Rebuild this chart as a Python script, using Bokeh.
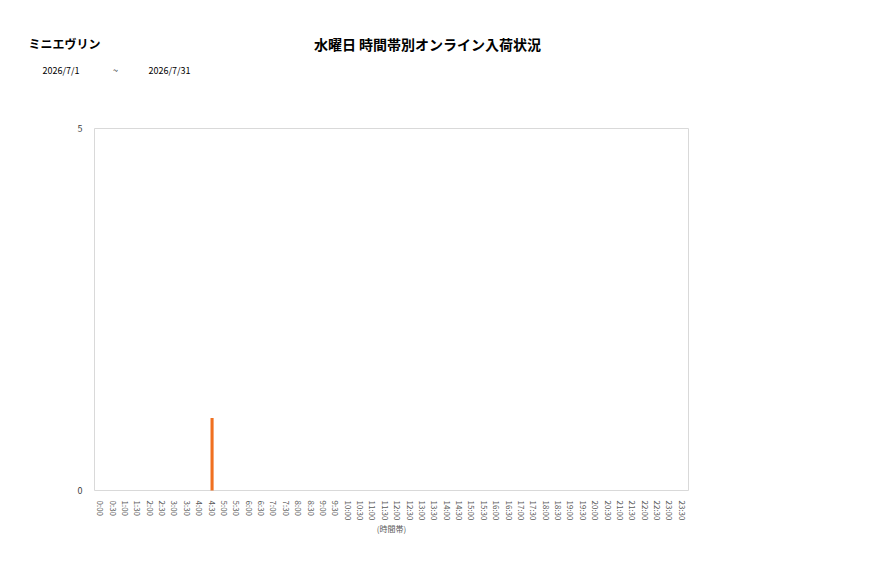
from bokeh.plotting import figure
from bokeh.models import Range1d, FixedTicker, ColumnDataSource
from bokeh.core.properties import value
from bokeh.embed import file_html
from bokeh.resources import INLINE

times = ["0:00", "0:30", "1:00", "1:30", "2:00", "2:30", "3:00", "3:30",
         "4:00", "4:30", "5:00", "5:30", "6:00", "6:30", "7:00", "7:30",
         "8:00", "8:30", "9:00", "9:30", "10:00", "10:30", "11:00", "11:30",
         "12:00", "12:30", "13:00", "13:30", "14:00", "14:30", "15:00", "15:30",
         "16:00", "16:30", "17:00", "17:30", "18:00", "18:30", "19:00", "19:30",
         "20:00", "20:30", "21:00", "21:30", "22:00", "22:30", "23:00", "23:30"]
counts = [0, 0, 0, 0, 0, 0, 0, 0,
          0, 1, 0, 0, 0, 0, 0, 0,
          0, 0, 0, 0, 0, 0, 0, 0,
          0, 0, 0, 0, 0, 0, 0, 0,
          0, 0, 0, 0, 0, 0, 0, 0,
          0, 0, 0, 0, 0, 0, 0, 0]
y_ticks = [0, 5]
y_max = 5
title_text = "水曜日 時間帯別オンライン入荷状況"
store_name = "ミニエヴリン"
date_from = "2026/7/1"
date_to = "2026/7/31"
x_label = "(時間帯)"

FONT = "Noto Sans CJK JP"
W, H = 869, 570
# chart area in canvas pixels
CL, CR, CT, CB = 94, 688, 128, 490

n = len(times)
xpos = [i + 0.5 for i in range(n)]
ux = (CR - CL) / n
uy = (CB - CT) / y_max
x_rng = Range1d(-CL / ux, n + (W - CR) / ux)
y_rng = Range1d(-(H - CB) / uy, y_max + CT / uy)

p = figure(width=W, height=H, x_range=x_rng, y_range=y_rng,
           output_backend="svg", toolbar_location=None, min_border=0)
p.outline_line_color = None
p.xgrid.visible = False
p.ygrid.visible = False
p.extra_x_ranges = {"px": Range1d(0, W)}
p.extra_y_ranges = {"px": Range1d(H, 0)}

# chart border
p.quad(left=[0], right=[n], bottom=[0], top=[y_max], fill_color=None,
       line_color="#d9d9d9", line_width=1)

src = ColumnDataSource(dict(x=xpos, c=counts))
p.vbar(x="x", top="c", width=0.25, source=src, color="#f07020", line_color=None)

p.yaxis.fixed_location = 0
p.yaxis.ticker = FixedTicker(ticks=y_ticks)
p.yaxis.axis_line_color = None
p.yaxis.major_tick_line_color = None
p.yaxis.minor_tick_line_color = None
p.yaxis.major_label_text_font = FONT
p.yaxis.major_label_text_font_size = "9px"
p.yaxis.major_label_text_color = "#404040"
p.yaxis.major_label_standoff = 6

p.xaxis.fixed_location = 0
p.xaxis.ticker = FixedTicker(ticks=xpos)
p.xaxis.major_label_overrides = {x: t for x, t in zip(xpos, times)}
p.xaxis.axis_line_color = None
p.xaxis.major_tick_line_color = None
p.xaxis.minor_tick_line_color = None
p.xaxis.major_label_orientation = "vertical"
p.xaxis.major_label_text_font = FONT
p.xaxis.major_label_text_font_size = "8px"
p.xaxis.major_label_text_color = "#595959"
p.xaxis.major_label_standoff = 4

def txt(t, x, y, size, style="normal", align="left", color="#000000"):
    p.text(x=[x], y=[y], text=[t], text_font=value(FONT), text_font_size=size,
           text_font_style=style, text_align=align, text_baseline="middle",
           text_color=color, x_range_name="px", y_range_name="px")

txt(title_text, 427, 43, "14px", "bold", "center")
txt(store_name, 28, 43, "12px", "bold", "left")
txt(date_from, 42, 70, "9px", "normal", "left")
txt("~", 115, 70, "9px", "normal", "center")
txt(date_to, 148, 70, "9px", "normal", "left")
txt(x_label, (CL + CR) / 2, 528, "8px", "normal", "center", "#595959")

open("out.html", "w").write(file_html(p, INLINE))
